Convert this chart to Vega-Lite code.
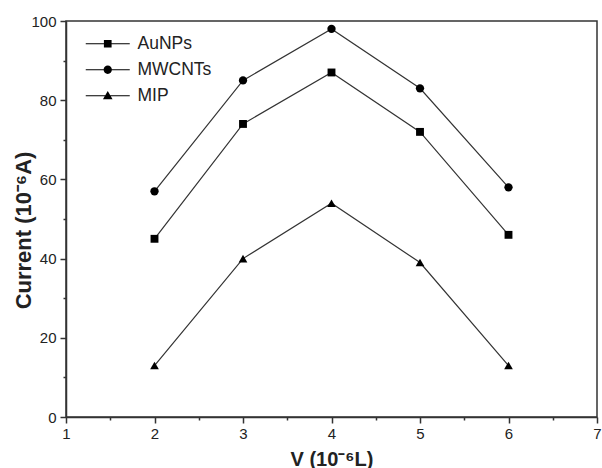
{
  "$schema": "https://vega.github.io/schema/vega-lite/v6.json",
  "width": 531,
  "height": 396,
  "autosize": {"type": "none"},
  "padding": {"left": 66, "top": 21, "right": 5, "bottom": 51},
  "background": "white",
  "config": {
    "view": {"stroke": "#333", "strokeWidth": 1.5},
    "font": "Liberation Sans"
  },
  "data": {
    "values": [
      {"V": 2, "Current": 45, "series": "AuNPs"},
      {"V": 3, "Current": 74, "series": "AuNPs"},
      {"V": 4, "Current": 87, "series": "AuNPs"},
      {"V": 5, "Current": 72, "series": "AuNPs"},
      {"V": 6, "Current": 46, "series": "AuNPs"},
      {"V": 2, "Current": 57, "series": "MWCNTs"},
      {"V": 3, "Current": 85, "series": "MWCNTs"},
      {"V": 4, "Current": 98, "series": "MWCNTs"},
      {"V": 5, "Current": 83, "series": "MWCNTs"},
      {"V": 6, "Current": 58, "series": "MWCNTs"},
      {"V": 2, "Current": 13, "series": "MIP"},
      {"V": 3, "Current": 40, "series": "MIP"},
      {"V": 4, "Current": 54, "series": "MIP"},
      {"V": 5, "Current": 39, "series": "MIP"},
      {"V": 6, "Current": 13, "series": "MIP"}
    ]
  },
  "encoding": {
    "x": {
      "field": "V",
      "type": "quantitative",
      "scale": {"domain": [1, 7], "nice": false, "zero": false},
      "axis": {
        "values": [1, 1.5, 2, 2.5, 3, 3.5, 4, 4.5, 5, 5.5, 6, 6.5, 7],
        "labelExpr": "datum.value % 1 === 0 ? format(datum.value, 'd') : ''",
        "ticks": true,
        "tickSize": {"condition": {"test": "datum.value % 1 === 0", "value": 6}, "value": 3},
        "labelPadding": 3,
        "labelFlush": false,
        "labelOverlap": false,
        "labelFontSize": 15,
        "labelColor": "#222",
        "grid": false,
        "domainColor": "#333",
        "domainWidth": 1.5,
        "tickColor": "#333",
        "tickWidth": 1.5,
        "title": "V (10⁻⁶L)",
        "titleFontSize": 20,
        "titleFontWeight": "bold",
        "titleColor": "#222",
        "titleBaseline": "alphabetic",
        "titleY": 48
      }
    },
    "y": {
      "field": "Current",
      "type": "quantitative",
      "scale": {"domain": [0, 100], "nice": false},
      "axis": {
        "values": [0, 10, 20, 30, 40, 50, 60, 70, 80, 90, 100],
        "labelExpr": "datum.value % 20 === 0 ? datum.label : ''",
        "ticks": true,
        "tickSize": {"condition": {"test": "datum.value % 20 === 0", "value": 6}, "value": 3},
        "labelPadding": 4,
        "labelOverlap": false,
        "labelFontSize": 15,
        "labelColor": "#222",
        "grid": false,
        "domainColor": "#333",
        "domainWidth": 1.5,
        "tickColor": "#333",
        "tickWidth": 1.5,
        "title": "Current (10⁻⁶A)",
        "titleFontSize": 22,
        "titleFontWeight": "bold",
        "titleColor": "#222",
        "titleAngle": -90,
        "titleAlign": "center",
        "titleBaseline": "alphabetic",
        "titleX": -36,
        "titleY": 209
      }
    }
  },
  "layer": [
    {
      "mark": {"type": "line", "color": "#333", "strokeWidth": 1.2},
      "encoding": {"detail": {"field": "series"}}
    },
    {
      "mark": {"type": "point", "filled": true, "color": "black", "opacity": 1},
      "encoding": {
        "shape": {
          "field": "series",
          "type": "nominal",
          "scale": {"domain": ["AuNPs", "MWCNTs", "MIP"], "range": ["square", "circle", "triangle-up"]},
          "legend": null
        },
        "size": {
          "field": "series",
          "type": "nominal",
          "scale": {"domain": ["AuNPs", "MWCNTs", "MIP"], "range": [62, 76, 95]},
          "legend": null
        }
      }
    },
    {
      "mark": {"type": "point", "filled": true, "color": "black", "opacity": 0},
      "encoding": {
        "shape": {
          "field": "series",
          "type": "nominal",
          "scale": {
            "domain": ["AuNPs", "MWCNTs", "MIP"],
            "range": [
              "M-2.75,-0.07H2.75V0.07H-2.75Z M-0.48,-0.48H0.48V0.48H-0.48Z",
              "M-2.75,-0.07H2.75V0.07H-2.75Z M-0.52,0A0.52,0.52 0 1,1 0.52,0A0.52,0.52 0 1,1 -0.52,0Z",
              "M-2.75,-0.07H2.75V0.07H-2.75Z M0,-0.58L0.6,0.45H-0.6Z"
            ]
          },
          "legend": {
            "orient": "none",
            "legendX": 33,
            "legendY": 14,
            "title": null,
            "padding": 0,
            "symbolSize": 256,
            "symbolStrokeWidth": 0,
            "symbolFillColor": "black",
            "symbolOpacity": 1,
            "labelFontSize": 17.5,
            "labelColor": "#222",
            "labelOffset": 21,
            "rowPadding": 7,
            "encode": {"symbols": {"update": {"opacity": {"value": 1}, "fill": {"value": "black"}}}}
          }
        }
      }
    }
  ],
  "resolve": {"scale": {"shape": "independent"}}
}
